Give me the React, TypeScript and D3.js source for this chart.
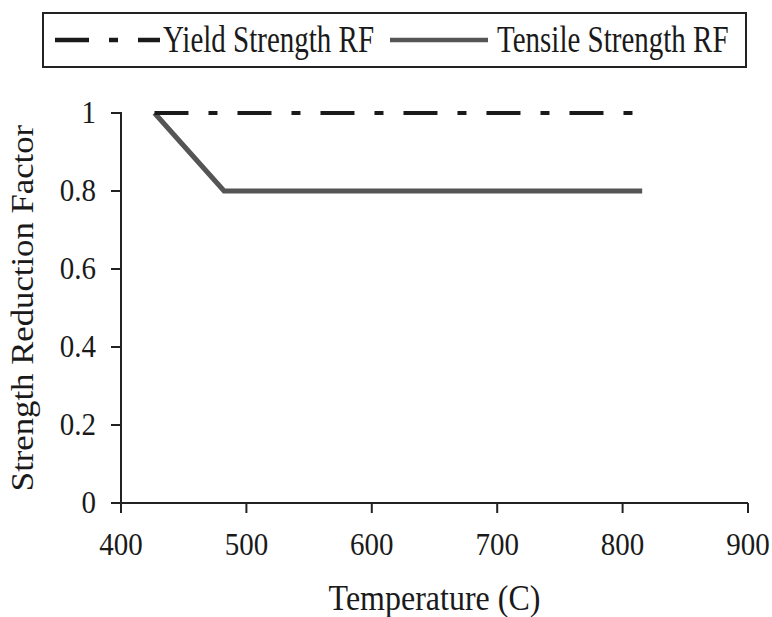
import React from "react";
import * as d3 from "d3";

const temperatures = [426.7, 482.2, 815.6];
const yieldRF = [1, 1, 1];
const tensileRF = [1, 0.8, 0.8];
const xTicks = [400, 500, 600, 700, 800, 900];
const yTicks = [0, 0.2, 0.4, 0.6, 0.8, 1];
const yTickLabels = ["0", "0.2", "0.4", "0.6", "0.8", "1"];
const seriesNames = ["Yield Strength RF", "Tensile Strength RF"];

const W = 772;
const H = 617;
const FONT = "'Liberation Serif', 'Times New Roman', serif";

export default function App() {
  const x = d3.scaleLinear().domain([400, 900]).range([121, 748]);
  const y = d3.scaleLinear().domain([0, 1]).range([503, 113]);
  const line = d3
    .line<[number, number]>()
    .x((d) => x(d[0]))
    .y((d) => y(d[1]));
  const yieldPts: [number, number][] = temperatures.map((t, i) => [t, yieldRF[i]]);
  const tensilePts: [number, number][] = temperatures.map((t, i) => [t, tensileRF[i]]);
  const txt = "#1a1a1a";

  return (
    <svg
      width={W}
      height={H}
      style={{ position: "absolute", left: 0, top: 0, background: "#fff" }}
      fontFamily={FONT}
    >
      <rect x={0} y={0} width={W} height={H} fill="#fff" />
      {/* legend */}
      <rect x={43} y={13} width={703} height={54} fill="#fff" stroke="#222" strokeWidth={2} />
      <line x1={55} x2={160} y1={40} y2={40} stroke="#1a1a1a" strokeWidth={4.5} strokeDasharray="34 20 9 20" />
      <text transform="translate(163,52) scale(1,1.3)" fontSize={29} fill={txt}>
        {seriesNames[0]}
      </text>
      <line x1={390} x2={488} y1={40} y2={40} stroke="#555" strokeWidth={4.5} />
      <text transform="translate(497,52) scale(1,1.3)" fontSize={29} fill={txt}>
        {seriesNames[1]}
      </text>

      {/* axes */}
      <line x1={x(400)} x2={x(400)} y1={y(1) - 1} y2={y(0)} stroke="#222" strokeWidth={2} />
      <line x1={x(400) - 10} x2={x(900)} y1={y(0)} y2={y(0)} stroke="#222" strokeWidth={2} />
      {yTicks.map((t, i) => (
        <g key={"yt" + i}>
          <line x1={x(400) - 10} x2={x(400)} y1={y(t)} y2={y(t)} stroke="#222" strokeWidth={2} />
          <text
            transform={`translate(96,${y(t) + 10}) scale(1,1.1)`}
            fontSize={29}
            textAnchor="end"
            fill={txt}
          >
            {yTickLabels[i]}
          </text>
        </g>
      ))}
      {xTicks.map((t, i) => (
        <g key={"xt" + i}>
          <line x1={x(t)} x2={x(t)} y1={y(0)} y2={y(0) + 10} stroke="#222" strokeWidth={2} />
          <text
            transform={`translate(${x(t)},555) scale(1,1.1)`}
            fontSize={29}
            textAnchor="middle"
            fill={txt}
          >
            {t}
          </text>
        </g>
      ))}

      {/* titles */}
      <text
        transform={`translate(${(x(400) + x(900)) / 2},610) scale(1,1.12)`}
        fontSize={32}
        textAnchor="middle"
        fill={txt}
      >
        Temperature (C)
      </text>
      <text
        transform={`translate(33,${(y(0) + y(1)) / 2}) rotate(-90) scale(1.12,1)`}
        fontSize={31}
        textAnchor="middle"
        fill={txt}
      >
        Strength Reduction Factor
      </text>

      {/* series */}
      <path d={line(tensilePts) || ""} fill="none" stroke="#555" strokeWidth={5} strokeLinejoin="miter" />
      <path
        d={line(yieldPts) || ""}
        fill="none"
        stroke="#1a1a1a"
        strokeWidth={4}
        strokeDasharray="34 20 9 20"
      />
    </svg>
  );
}
